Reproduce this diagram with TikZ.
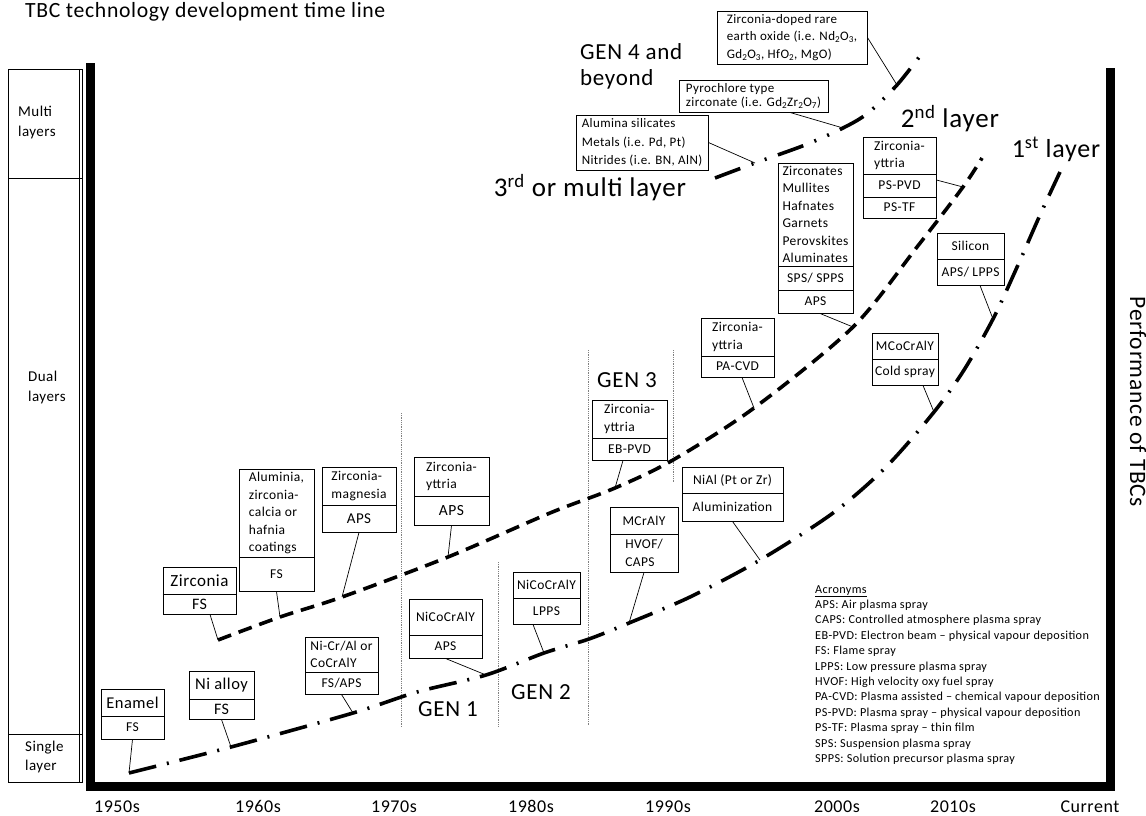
\documentclass[tikz,border=0pt]{standalone}
\usepackage{fontspec}
\setmainfont{Carlito}[LetterSpace=3]
\newfontfamily\acrfont{Carlito}[LetterSpace=3]
\newcommand\fsz[2]{\fontsize{#1}{#2}\selectfont}
\begin{document}
\begin{tikzpicture}[x=1pt,y=-1pt,
  bx/.style={draw, line width=0.9pt, inner sep=0pt, align=center, font=\fsz{13.5}{17.5}},
  bxl/.style={bx, align=left},
  lead/.style={line width=0.7pt},
  big/.style={inner sep=0pt, font=\fsz{23}{27}},
  lone/.style={line width=3.6pt, dash pattern=on 28pt off 11pt on 2pt off 11pt},
  ltwo/.style={line width=3.6pt, dash pattern=on 14pt off 8pt},
  lthree/.style={line width=3.6pt, dash pattern=on 27pt off 12pt on 2pt off 12pt on 2pt off 12pt},
  genl/.style={gray, line width=0.8pt, densely dotted},
  yr/.style={inner sep=0pt, anchor=base, font=\fsz{18}{21}},
]
\useasboundingbox (0,0) rectangle (1146,816);

% title
\node[anchor=base west, inner sep=0pt, font=\fsz{21.7}{25}] (title) at (25,18) {TBC technology development time line};

% left column
\draw[line width=0.9pt] (8,69) rectangle (82,782);
\draw[line width=0.9pt] (8,178) -- (82,178);
\draw[line width=0.9pt] (8,734) -- (82,734);
\draw[line width=0.6pt] (79,69) -- (79,782);
\node[anchor=west, align=left, inner sep=0pt, font=\fsz{15}{20}] (multi) at (18,123) {Multi\\layers};
\node[anchor=west, align=left, inner sep=0pt, font=\fsz{15}{20}] (dual) at (28,387) {Dual\\layers};
\node[anchor=west, align=left, inner sep=0pt, font=\fsz{15}{19}] (single) at (25,757) {Single\\layer};

% axes bars
\fill (86,63) rectangle (95,791);
\fill (86,782) rectangle (1115,791);
\fill (1106,68) rectangle (1115,791);
\node[rotate=-90, inner sep=0pt, font=\fsz{23.5}{27}] (perf) at (1138,402) {Performance of TBCs};

% year labels
\node[yr] (y50) at (117,812) {1950s};
\node[yr] (y60) at (258,812) {1960s};
\node[yr] (y70) at (394,812) {1970s};
\node[yr] (y80) at (531,812) {1980s};
\node[yr] (y90) at (668,812) {1990s};
\node[yr] (y00) at (837,812) {2000s};
\node[yr] (y10) at (953,812) {2010s};
\node[yr] (ycur) at (1090,812) {Current};

% generation separators
\draw[genl] (401,413) -- (401,727);
\draw[genl] (498,562) -- (498,726);
\draw[genl] (588,350) -- (588,726);
\draw[genl] (673,350) -- (673,483);
\node[big] (gen1) at (448,709) {GEN 1};
\node[big] (gen2) at (541,692) {GEN 2};
\node[big] (gen3) at (627,380) {GEN 3};
\node[big, anchor=north west, align=left, font=\fsz{23}{26}] (gen4) at (580,43) {GEN 4 and\\beyond};

% layer labels
\node[inner sep=0pt, font=\fsz{27}{30}] (lay3) at (590,188) {3\textsuperscript{rd} or multi layer};
\node[inner sep=0pt, font=\fsz{27}{30}] (lay2) at (950,119) {2\textsuperscript{nd} layer};
\node[inner sep=0pt, font=\fsz{26}{30}] (lay1) at (1056,149) {1\textsuperscript{st} layer};

% curve coordinates: 1st layer
\coordinate (a1) at (129,773);
\coordinate (a2) at (231,747);
\coordinate (a3) at (353,713);
\coordinate (a4) at (417,692);
\coordinate (a5) at (486,675);
\coordinate (a6) at (544,653);
\coordinate (a7) at (589,639);
\coordinate (a8) at (629,623);
\coordinate (a9) at (690,597);
\coordinate (a10) at (760,560);
\coordinate (a11) at (833,513);
\coordinate (a11b) at (886,467);
\coordinate (a12) at (934,412);
\coordinate (a12b) at (964,370);
\coordinate (a13) at (993,319);
\coordinate (a14) at (1018,265);
\coordinate (a14b) at (1040,215);
\coordinate (a15) at (1060,172);
% 2nd layer
\coordinate (b1) at (218,640);
\coordinate (b2) at (280,617);
\coordinate (b3) at (342,597);
\coordinate (b4) at (448,557);
\coordinate (b5) at (550,513);
\coordinate (b6) at (615,488);
\coordinate (b7) at (673,460);
\coordinate (b8) at (754,408);
\coordinate (b9) at (853,327);
\coordinate (b10) at (917,247);
\coordinate (b11) at (963,187);
\coordinate (b12) at (982,158);
% 3rd layer
\coordinate (c1) at (715,178);
\coordinate (c2) at (755,163);
\coordinate (c3) at (805,145);
\coordinate (c4) at (843,128);
\coordinate (c5) at (868,113);
\coordinate (c6) at (897,85);
\coordinate (c7) at (923,52);

\draw[lone] plot[smooth, tension=0.5] coordinates {(a1) (a2) (a3) (a4) (a5) (a6) (a7) (a8) (a9) (a10) (a11) (a11b) (a12) (a12b) (a13) (a14) (a14b) (a15)};
\draw[ltwo] plot[smooth, tension=0.5] coordinates {(b1) (b2) (b3) (b4) (b5) (b6) (b7) (b8) (b9) (b10) (b11) (b12)};
\draw[lthree] plot[smooth, tension=0.5] coordinates {(c1) (c2) (c3) (c4) (c5) (c6) (c7)};

% ---- boxes ----
% Enamel
\node[bx, minimum width=63, minimum height=27, font=\fsz{16.5}{19}] (enT) at (132.5,702.5) {Enamel};
\node[bx, minimum width=63, minimum height=23] (enB) at (132.5,727.5) {FS};
% Ni alloy
\node[bx, minimum width=65, minimum height=28, font=\fsz{16.5}{19}] (niT) at (221.5,685) {Ni alloy};
\node[bx, minimum width=65, minimum height=20, font=\fsz{16}{19}] (niB) at (221.5,709) {FS};
% Ni-Cr/Al
\node[bxl, minimum width=73, minimum height=35] (ncT) at (341.5,654.5) {Ni-Cr/Al or\\CoCrAlY};
\node[bx, minimum width=73, minimum height=22] (ncB) at (341.5,683) {FS/APS};
% Zirconia
\node[bx, minimum width=73, minimum height=27, font=\fsz{17}{19}] (zrT) at (199.5,580.5) {Zirconia};
\node[bx, minimum width=73, minimum height=20, font=\fsz{16}{19}] (zrB) at (199.5,604) {FS};
\draw[line width=1.8pt] (zrT.south west) -- (zrT.south east);
% Aluminia
\node[bxl, minimum width=75, minimum height=88] (amT) at (276.5,513) {Aluminia,\\zirconia-\\calcia or\\hafnia\\coatings};
\node[bx, minimum width=75, minimum height=34] (amB) at (276.5,574) {FS};
% Zirconia-magnesia
\node[bxl, minimum width=74, minimum height=38] (zmT) at (359,486) {Zirconia-\\magnesia};
\node[bx, minimum width=74, minimum height=27, font=\fsz{15}{18}] (zmB) at (359,518.5) {APS};
% Zirconia-yttria APS
\node[bxl, minimum width=75, minimum height=39] (zyT) at (451.5,476.5) {Zirconia-\\yttria};
\node[bx, minimum width=75, minimum height=29, font=\fsz{15.5}{18}] (zyB) at (451.5,510.5) {APS};
% NiCoCrAlY APS
\node[bx, minimum width=73, minimum height=36] (n1T) at (445.5,617) {NiCoCrAlY};
\node[bx, minimum width=73, minimum height=23] (n1B) at (445.5,646.5) {APS};
% NiCoCrAlY LPPS
\node[bx, minimum width=67, minimum height=26] (n2T) at (546.5,585) {NiCoCrAlY};
\node[bx, minimum width=67, minimum height=26] (n2B) at (546.5,611) {LPPS};
% EB-PVD
\node[bxl, minimum width=75, minimum height=38] (ebT) at (629.5,419) {Zirconia-\\yttria};
\node[bx, minimum width=75, minimum height=22] (ebB) at (629.5,449) {EB-PVD};
% MCrAlY
\node[bx, minimum width=68, minimum height=27] (mcT) at (644,520.5) {MCrAlY};
\node[bxl, minimum width=68, minimum height=38] (mcB) at (644,553) {HVOF/\\CAPS};
% NiAl
\node[bx, minimum width=101, minimum height=26] (naT) at (732.5,480) {NiAl (Pt or Zr)};
\node[bx, minimum width=101, minimum height=28] (naB) at (732.5,507) {Aluminization};
% PA-CVD
\node[bxl, minimum width=73, minimum height=38] (paT) at (737.5,337) {Zirconia-\\yttria};
\node[bx, minimum width=73, minimum height=21] (paB) at (737.5,366.5) {PA-CVD};
% Zirconates
\node[bxl, minimum width=75, minimum height=103] (zcT) at (815.5,214.5) {Zirconates\\Mullites\\Hafnates\\Garnets\\Perovskites\\Aluminates};
\node[bx, minimum width=75, minimum height=24] (zcM) at (815.5,278) {SPS/ SPPS};
\node[bx, minimum width=75, minimum height=23] (zcB) at (815.5,301.5) {APS};
% PS-PVD
\node[bxl, minimum width=73, minimum height=37] (psT) at (899.5,155.5) {Zirconia-\\yttria};
\node[bx, minimum width=73, minimum height=23] (psM) at (899.5,185.5) {PS-PVD};
\node[bx, minimum width=73, minimum height=21] (psB) at (899.5,207.5) {PS-TF};
% Silicon
\node[bx, minimum width=67, minimum height=26] (siT) at (970.5,246) {Silicon};
\node[bx, minimum width=67, minimum height=26] (siB) at (970.5,272) {APS/ LPPS};
% MCoCrAlY
\node[bx, minimum width=66, minimum height=26] (moT) at (905,346) {MCoCrAlY};
\node[bx, minimum width=66, minimum height=26] (moB) at (905,372) {Cold spray};
% GEN 4 boxes
\node[bxl, minimum width=132, minimum height=55, font=\fsz{13}{18.5}] (asil) at (642,142.5) {Alumina silicates\\Metals (i.e. Pd, Pt)\\Nitrides (i.e. BN, AlN)};
\node[bxl, minimum width=149, minimum height=32, font=\fsz{13}{14}] (pyro) at (753.5,96) {Pyrochlore type\\zirconate (i.e. Gd\textsubscript{2}Zr\textsubscript{2}O\textsubscript{7})};
\node[bxl, minimum width=150, minimum height=53, font=\fsz{13}{17.5}] (zdop) at (792,37.5) {Zirconia-doped rare\\earth oxide (i.e. Nd\textsubscript{2}O\textsubscript{3},\\Gd\textsubscript{2}O\textsubscript{3}, HfO\textsubscript{2}, MgO)};

% ---- leaders ----
\draw[lead] (enB.south) -- (a1);
\draw[lead] (niB.south) -- (a2);
\draw[lead] (ncB.south) -- (a3);
\draw[lead] ([xshift=10.5]zrB.south) -- (b1);
\draw[lead] (amB.south) -- (b2);
\draw[lead] (zmB.south) -- (b3);
\draw[lead] (zyB.south) -- (b4);
\draw[lead] (n1B.south) -- (a5);
\draw[lead] ([xshift=-13.5]n2B.south) -- (a6);
\draw[lead] ([xshift=-6.5]ebB.south) -- (b6);
\draw[lead] (mcB.south) -- (a8);
\draw[lead] (naB.south) -- (a10);
\draw[lead] ([xshift=4.5]paB.south) -- (b8);
\draw[lead] ([xshift=4.5]zcB.south) -- (b9);
\draw[lead] ([yshift=5.5]psM.east) -- (b11);
\draw[lead] ([xshift=9.5]siB.south) -- (a13);
\draw[lead] ([xshift=18]moB.south) -- (a12);
\draw[lead] (asil.east) -- (c2);
\draw[lead] ([xshift=36.5]pyro.south) -- (c4);
\draw[lead] (zdop.east) -- (c6);

% acronyms
\node[anchor=north west, align=left, inner sep=0pt, font=\acrfont\fsz{12.2}{15.4}] (acr) at (815,585) {\underline{Acronyms}\\
APS: Air plasma spray\\
CAPS: Controlled atmosphere plasma spray\\
EB-PVD: Electron beam – physical vapour deposition\\
FS: Flame spray\\
LPPS: Low pressure plasma spray\\
HVOF: High velocity oxy fuel spray\\
PA-CVD: Plasma assisted – chemical vapour deposition\\
PS-PVD: Plasma spray – physical vapour deposition\\
PS-TF: Plasma spray – thin film\\
SPS: Suspension plasma spray\\
SPPS: Solution precursor plasma spray};
\end{tikzpicture}
\end{document}
